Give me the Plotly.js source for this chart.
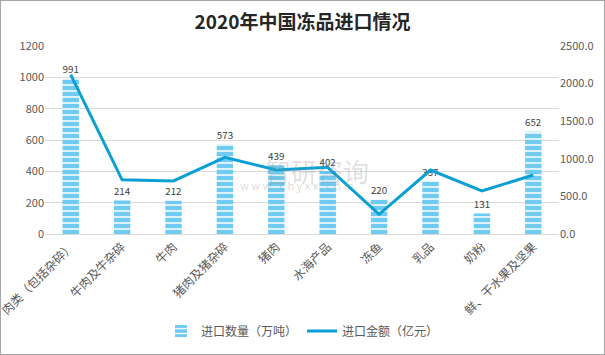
<!DOCTYPE html>
<html><head><meta charset="utf-8">
<script src="https://cdn.plot.ly/plotly-3.0.1.min.js"></script>
<style>
html,body{margin:0;padding:0;background:#fff;}
#chart{width:605px;height:355px;box-sizing:border-box;border:1px solid #a6a6a6;}
</style></head>
<body><div id="chart"></div>
<script>
const categories = ['肉类（包括杂碎）','牛肉及牛杂碎','牛肉','猪肉及猪杂碎','猪肉','水海产品','冻鱼','乳品','奶粉','鲜、干水果及坚果'];
const quantity = [991, 214, 212, 573, 439, 402, 220, 337, 131, 652];
const amount = [2120, 720, 705, 1020, 850, 887, 262, 851, 572, 785];
const leftTicks = [0, 200, 400, 600, 800, 1000, 1200];
const rightTicks = [0, 500, 1000, 1500, 2000, 2500];

const font = "'Noto Sans CJK SC', 'Noto Sans', sans-serif";
const traces = [
  {
    type: 'bar', name: '进口数量（万吨）', x: categories, y: quantity,
    width: 0.32,
    marker: {color: '#6fcbf1', line: {width: 0},
      pattern: {shape: '-', fgcolor: '#ffffff', bgcolor: '#6fcbf1', size: 6, solidity: 0.25}},
    text: quantity.map(String), textposition: 'outside', cliponaxis: false,
    textfont: {size: 12, color: '#404040', family: font},
    hoverinfo: 'skip'
  },
  {
    type: 'scatter', mode: 'lines', name: '进口金额（亿元）', x: categories, y: amount,
    yaxis: 'y2', line: {color: '#0aa0d4', width: 3}, hoverinfo: 'skip'
  }
];
const layout = {
  width: 603, height: 353,
  margin: {l: 44, r: 45, t: 45, b: 120, autoexpand: false},
  paper_bgcolor: '#ffffff', plot_bgcolor: '#ffffff',
  font: {family: font, color: '#595959', size: 11},
  title: {text: '<b>2020年中国冻品进口情况</b>', x: 0.5, xanchor: 'center', y: 0.94, yanchor: 'middle',
    font: {size: 19, color: '#262626', family: font}},
  showlegend: true,
  legend: {orientation: 'h', x: 0.5, xanchor: 'center', xref: 'container', yref: 'container', y: 0.065, yanchor: 'middle',
    font: {size: 12, color: '#595959', family: font}, traceorder: 'normal'},
  xaxis: {tickangle: -45, tickfont: {size: 12, color: '#595959', family: font},
    showline: true, linecolor: '#d9d9d9', ticks: '', showgrid: false, automargin: false},
  yaxis: {range: [0, 1200], tickvals: leftTicks, ticktext: leftTicks.map(String),
    gridcolor: '#d9d9d9', zeroline: false, ticks: '', automargin: false, tickfont: {size: 11, color: '#595959'}},
  yaxis2: {range: [0, 2500], overlaying: 'y', side: 'right', tickvals: rightTicks, automargin: false,
    ticktext: rightTicks.map(v => v.toFixed(1)), showgrid: false, zeroline: false,
    ticks: '', tickfont: {size: 11, color: '#595959'}},
  annotations: [
    {xref: 'paper', yref: 'paper', x: 0.53, y: 0.34, text: '智研咨询', showarrow: false,
      font: {size: 26, color: 'rgba(150,150,150,0.3)', family: font}},
    {xref: 'paper', yref: 'paper', x: 0.49, y: 0.21, text: 'w w w . c h y x x . c o m', showarrow: false,
      font: {size: 11, color: 'rgba(150,150,150,0.35)', family: font}}
  ]
};
Plotly.newPlot('chart', traces, layout, {displayModeBar: false, staticPlot: true});
</script></body></html>
